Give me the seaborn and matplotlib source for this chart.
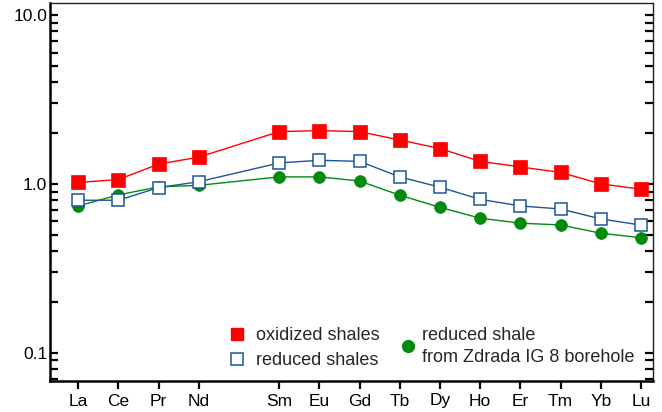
import numpy as np
import pandas as pd
import matplotlib
matplotlib.use("Agg")
import matplotlib.pyplot as plt
from matplotlib.lines import Line2D
from matplotlib.ticker import FixedLocator, LogLocator, NullFormatter
import seaborn as sns

# ---- data ----
elements = ["La", "Ce", "Pr", "Nd", "Sm", "Eu", "Gd", "Tb", "Dy", "Ho", "Er", "Tm", "Yb", "Lu"]
positions = [0, 1, 2, 3, 5, 6, 7, 8, 9, 10, 11, 12, 13, 14]  # Pm slot left empty
oxidized = [1.02, 1.06, 1.31, 1.44, 2.04, 2.07, 2.04, 1.82, 1.62, 1.36, 1.26, 1.17, 1.00, 0.93]
reduced = [0.80, 0.80, 0.95, 1.03, 1.33, 1.38, 1.36, 1.10, 0.956, 0.81, 0.74, 0.71, 0.62, 0.57]
zdrada = [0.74, 0.86, 0.96, 0.98, 1.10, 1.10, 1.04, 0.857, 0.726, 0.626, 0.585, 0.571, 0.51, 0.48]
ytick_values = [0.1, 1.0, 10.0]
ytick_labels = ["0.1", "1.0", "10.0"]
labels = ["oxidized shales", "reduced shales", "reduced shale\nfrom Zdrada IG 8 borehole"]

RED = "#ff0000"
BLUE = "#1c5597"
GREEN = "#008a0e"

sns.set_theme(style="white")
plt.rcParams["font.family"] = ["Liberation Sans", "DejaVu Sans"]

W, H = 662, 412
fig = plt.figure(figsize=(W / 100, H / 100), dpi=100)
ax = fig.add_axes([50 / W, (H - 381) / H, (653 - 50) / W, (381 - 2.5) / H])

df = pd.DataFrame({"x": positions, "ox": oxidized, "red": reduced, "zd": zdrada})

sns.lineplot(data=df, x="x", y="ox", ax=ax, color=RED, lw=1.0,
             marker="s", markersize=9.5, markeredgecolor=RED, markerfacecolor=RED,
             markeredgewidth=0.5, zorder=3)
sns.lineplot(data=df, x="x", y="red", ax=ax, color=BLUE, lw=1.0,
             marker="s", markersize=8.8, markeredgecolor=BLUE, markerfacecolor="white",
             markeredgewidth=1.1, zorder=3)
sns.lineplot(data=df, x="x", y="zd", ax=ax, color=GREEN, lw=1.0,
             marker="o", markersize=8.5, markeredgecolor=GREEN, markerfacecolor=GREEN,
             markeredgewidth=0.5, zorder=2)

ax.set_yscale("log")
ax.set_ylim(0.0679, 11.88)
ax.set_xlim(-0.7, 14.3)
ax.set_xlabel("")
ax.set_ylabel("")

ax.xaxis.set_major_locator(FixedLocator(positions))
ax.set_xticklabels(elements)
ax.yaxis.set_major_locator(FixedLocator(ytick_values))
ax.set_yticklabels(ytick_labels)
ax.yaxis.set_minor_locator(LogLocator(base=10, subs=np.arange(2, 10)))
ax.yaxis.set_minor_formatter(NullFormatter())

ax.tick_params(axis="x", which="major", direction="out", length=6, width=1.6,
               bottom=True, top=False, labelsize=12.5, pad=3, colors="black")
ax.tick_params(axis="y", which="both", direction="in", length=6, width=1.6,
               left=True, right=True, labelsize=12.5, pad=2, colors="black")

for side in ["left", "bottom"]:
    ax.spines[side].set_linewidth(1.8)
    ax.spines[side].set_color("black")
for side in ["right", "top"]:
    ax.spines[side].set_linewidth(1.0)
    ax.spines[side].set_color("#222222")
    ax.spines[side].set_visible(True)

fs = 13
h1 = Line2D([], [], ls="none", marker="s", markersize=8.5, color=RED, mec=RED)
h2 = Line2D([], [], ls="none", marker="s", markersize=8, mfc="white", mec=BLUE, mew=1.1)
h3 = Line2D([], [], ls="none", marker="o", markersize=8.5, color=GREEN, mec=GREEN)

leg1 = ax.legend([h1, h2], labels[:2], loc="upper left",
                 bbox_to_anchor=(228 / W, (H - 327) / H), bbox_transform=fig.transFigure,
                 frameon=False, fontsize=fs, handlelength=1.0, handletextpad=0.55,
                 borderpad=0, borderaxespad=0, labelspacing=0.45)
ax.add_artist(leg1)
leg2 = ax.legend([h3], labels[2:], loc="upper left",
                 bbox_to_anchor=(398.7 / W, (H - 327) / H), bbox_transform=fig.transFigure,
                 frameon=False, fontsize=fs, handlelength=1.0, handletextpad=0.3,
                 borderpad=0, borderaxespad=0)
for t in leg2.get_texts():
    t.set_linespacing(1.35)

fig.savefig("out.png", dpi=100)
